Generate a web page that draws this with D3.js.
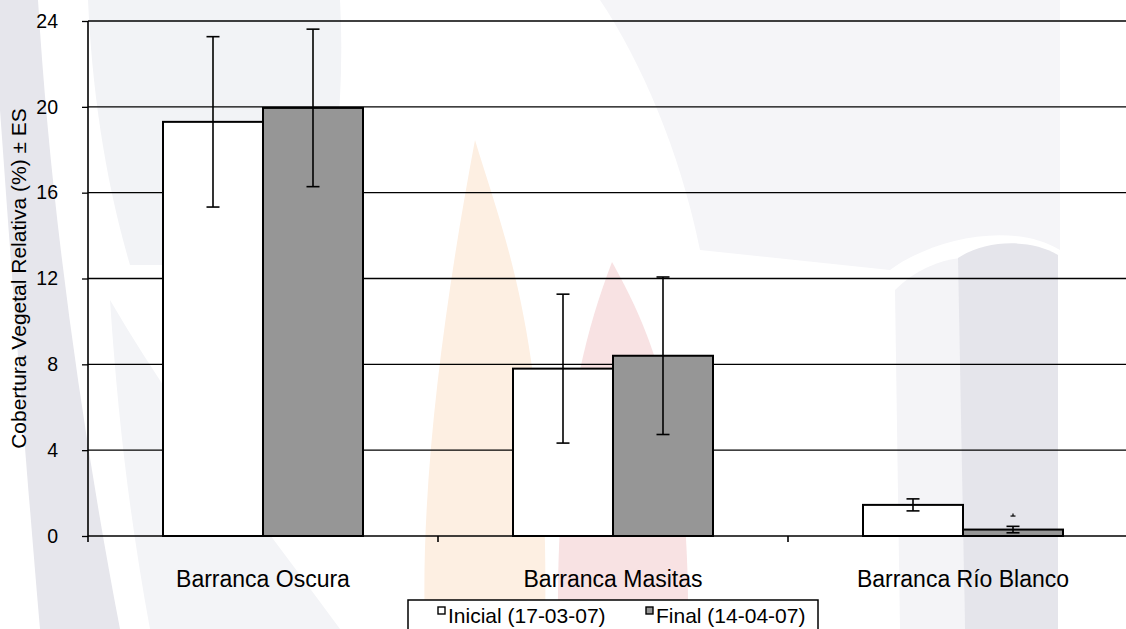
<!DOCTYPE html>
<html>
<head>
<meta charset="utf-8">
<script src="https://cdn.jsdelivr.net/npm/d3@7"></script>
<style>
  body { margin: 0; background: #fff; }
  svg { display: block; }
  text { font-family: "Liberation Sans", Arial, sans-serif; fill: #000; }
</style>
</head>
<body>
<svg id="chart" width="1126" height="629"></svg>
<script>
// Sites and sampling dates
const categories = ["Barranca Oscura", "Barranca Masitas", "Barranca Río Blanco"];
const seriesNames = ["Inicial (17-03-07)", "Final (14-04-07)"];

// Relative vegetation cover (%) and standard error per site
const inicialValues = [19.3, 7.8, 1.45];
const inicialES = [3.97, 3.47, 0.28];
const finalValues = [19.95, 8.4, 0.3];
const finalES = [3.67, 3.67, 0.15];

// Small marker drawn above the last bar
const markerValue = [0.93];

const yTicks = [0, 4, 8, 12, 16, 20, 24];
const seriesColors = ["#ffffff", "#969696"];

const svg = d3.select("#chart");
const W = 1126, H = 629;
const margin = { left: 88, top: 21, bottom: 536 };

// Background watermark (soft logo shapes)
const wm = svg.append("g").attr("class", "watermark");
wm.append("path").attr("fill", "#f2f3f6")
  .attr("d", "M88,0 L340,0 C345,90 335,180 320,265 L130,265 C105,180 92,90 88,0 Z");
wm.append("path").attr("fill", "#f3f4f7")
  .attr("d", "M110,300 C180,420 260,520 340,629 L150,629 C130,520 118,420 110,300 Z");
wm.append("path").attr("fill", "#e6e6ec")
  .attr("d", "M0,0 L38,0 C50,200 80,420 120,629 L40,629 C22,420 8,220 0,110 Z");
wm.append("path").attr("fill", "#f5f5f8")
  .attr("d", "M600,0 L1060,0 L1060,250 C1010,220 930,240 890,270 L700,250 C680,150 640,60 600,0 Z");
wm.append("path").attr("fill", "#f4f4f7")
  .attr("d", "M895,290 C915,270 940,260 960,258 L965,629 L900,629 Z");
wm.append("path").attr("fill", "#e5e5eb")
  .attr("d", "M958,258 C985,240 1030,238 1058,255 L1058,629 L965,629 Z");
wm.append("path").attr("fill", "#fdefe2")
  .attr("d", "M475,140 C505,240 550,340 545,629 L425,629 C420,480 445,300 475,140 Z");
wm.append("path").attr("fill", "#f8e2e3")
  .attr("d", "M612,262 C650,330 690,420 688,629 L558,629 C556,460 578,350 612,262 Z");

const x = d3.scaleBand().domain(categories).range([margin.left, margin.left + 1050]).padding(0);
const xInner = d3.scaleBand().domain(seriesNames).range([0, x.bandwidth()]).paddingInner(0).paddingOuter(0.75);
const y = d3.scaleLinear().domain([0, 24]).range([margin.bottom, margin.top]);

// Horizontal gridlines
svg.append("g").selectAll("line")
  .data(yTicks.filter(d => d > 0))
  .join("line")
  .attr("x1", margin.left).attr("x2", W)
  .attr("y1", d => y(d)).attr("y2", d => y(d))
  .attr("stroke", "#000").attr("stroke-width", 1.3);

// Bars
const rows = categories.map((c, i) => [
  { cat: c, s: seriesNames[0], v: inicialValues[i], e: inicialES[i], k: 0 },
  { cat: c, s: seriesNames[1], v: finalValues[i], e: finalES[i], k: 1 }
]).flat();

svg.append("g").selectAll("rect")
  .data(rows)
  .join("rect")
  .attr("x", d => x(d.cat) + xInner(d.s))
  .attr("y", d => y(d.v))
  .attr("width", xInner.bandwidth())
  .attr("height", d => y(0) - y(d.v))
  .attr("fill", d => seriesColors[d.k])
  .attr("stroke", "#000").attr("stroke-width", 2);

// Error bars
const eb = svg.append("g").attr("stroke", "#000").attr("stroke-width", 1.6);
rows.forEach(d => {
  const cx = x(d.cat) + xInner(d.s) + xInner.bandwidth() / 2;
  const y1 = y(d.v + d.e), y2 = y(d.v - d.e);
  eb.append("line").attr("x1", cx).attr("x2", cx).attr("y1", y1).attr("y2", y2);
  eb.append("line").attr("x1", cx - 6.5).attr("x2", cx + 6.5).attr("y1", y1).attr("y2", y1);
  eb.append("line").attr("x1", cx - 6.5).attr("x2", cx + 6.5).attr("y1", y2).attr("y2", y2);
});

// Marker above the last bar
const lastCx = x(categories[2]) + xInner(seriesNames[1]) + xInner.bandwidth() / 2;
markerValue.forEach(v => {
  eb.append("line").attr("x1", lastCx - 2.5).attr("x2", lastCx + 2.5).attr("y1", y(v)).attr("y2", y(v)).attr("stroke-width", 1.2);
  eb.append("line").attr("x1", lastCx).attr("x2", lastCx).attr("y1", y(v) - 2.5).attr("y2", y(v)).attr("stroke-width", 1.2);
});

// Y axis
const yAxis = svg.append("g")
  .attr("transform", `translate(${margin.left},0)`)
  .call(d3.axisLeft(y).tickValues(yTicks).tickFormat(d3.format("d")).tickSize(6).tickPadding(24));
yAxis.select(".domain").attr("stroke", "#000").attr("stroke-width", 1.6).attr("d", `M0,${y(24)}V${y(0)}`);
yAxis.selectAll(".tick line").attr("stroke", "#000").attr("stroke-width", 1.3);
yAxis.selectAll(".tick text").attr("font-size", 19.5).attr("font-family", "Liberation Sans, Arial, sans-serif").attr("fill", "#000");

// X axis baseline with category separators
const xAxisG = svg.append("g");
xAxisG.append("line")
  .attr("x1", margin.left).attr("x2", W)
  .attr("y1", y(0)).attr("y2", y(0))
  .attr("stroke", "#000").attr("stroke-width", 1.6);
const boundaries = categories.map(c => x(c)).concat([x(categories[2]) + x.bandwidth()]);
xAxisG.selectAll("line.sep")
  .data(boundaries)
  .join("line").attr("class", "sep")
  .attr("x1", d => d).attr("x2", d => d)
  .attr("y1", y(0)).attr("y2", y(0) + 6)
  .attr("stroke", "#000").attr("stroke-width", 1.6);
xAxisG.selectAll("text")
  .data(categories)
  .join("text")
  .attr("x", d => x(d) + x.bandwidth() / 2)
  .attr("y", 587)
  .attr("text-anchor", "middle")
  .attr("font-size", 23)
  .text(d => d);

// Y axis title
svg.append("text")
  .attr("transform", `translate(26,${(y(0) + y(24)) / 2}) rotate(-90)`)
  .attr("text-anchor", "middle")
  .attr("font-size", 21)
  .text("Cobertura Vegetal Relativa (%) ± ES");

// Legend
const lg = svg.append("g");
lg.append("rect").attr("x", 408).attr("y", 600).attr("width", 410).attr("height", 40)
  .attr("fill", "#fff").attr("stroke", "#000").attr("stroke-width", 1.5);
const legendX = [438, 646];
seriesNames.forEach((s, i) => {
  lg.append("rect").attr("x", legendX[i]).attr("y", 607).attr("width", 7).attr("height", 7)
    .attr("fill", seriesColors[i]).attr("stroke", "#000").attr("stroke-width", 1.4);
  lg.append("text").attr("x", legendX[i] + 10).attr("y", 623).attr("font-size", 21).text(s);
});
</script>
</body>
</html>
